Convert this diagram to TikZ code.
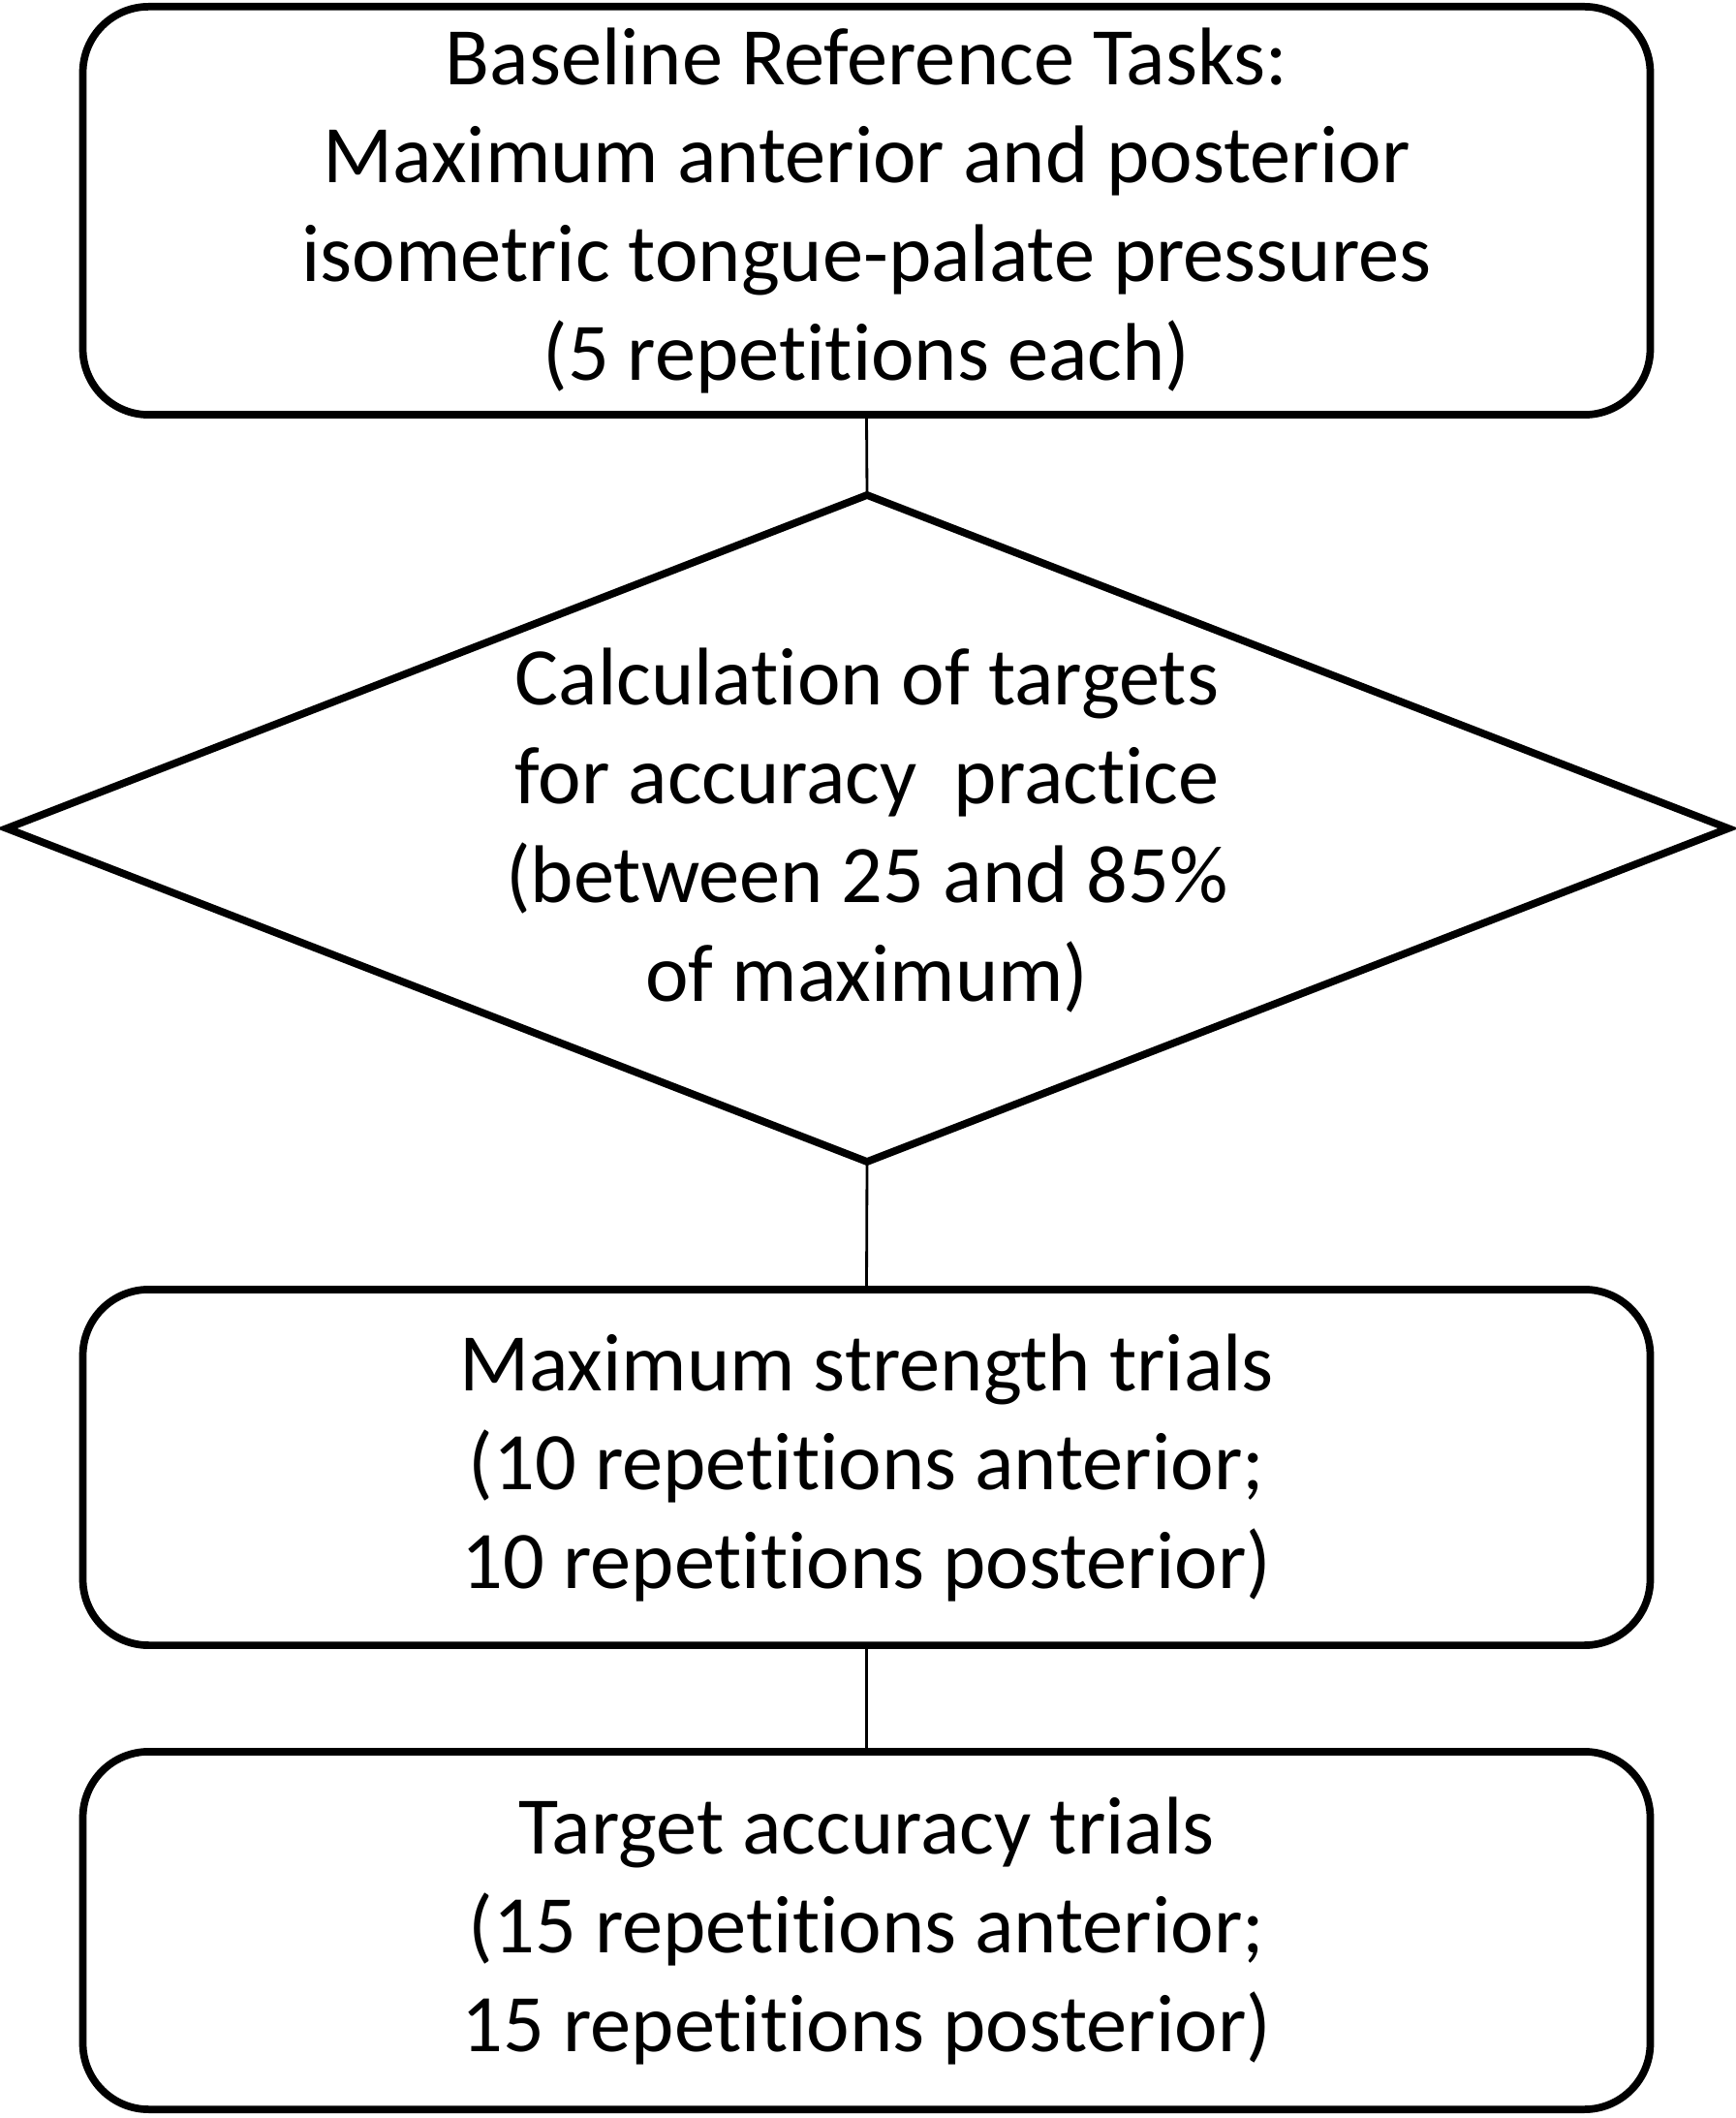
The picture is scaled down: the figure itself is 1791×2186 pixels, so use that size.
\documentclass[tikz,border=0pt]{standalone}
\usepackage{fontspec}
\setmainfont{Carlito}[Ligatures={NoCommon}]
\begin{document}
\begin{tikzpicture}[x=0.01cm,y=-0.01cm,
  boxstyle/.style={draw=black, line width=2.2pt, rounded corners=0.68cm, align=center, inner sep=0pt, fill=white},
  diastyle/.style={draw=black, line width=2.2pt, line join=miter},
  conn/.style={draw=black, line width=0.8pt},
  txt/.style={font=\fontsize{24}{29}\selectfont}]
\useasboundingbox (0,0) rectangle (1791,2186);
\node[boxstyle, txt, minimum width=16.17cm, minimum height=4.21cm] (b1) at (894.5,217.5)
  {Baseline Reference Tasks:\\Maximum anterior and posterior\\isometric tongue-palate pressures\\(5 repetitions each)};
\coordinate (dtop) at (895,511);
\coordinate (dright) at (1784,855);
\coordinate (dbot) at (895,1199);
\coordinate (dleft) at (7,855);
\draw[diastyle] (dtop) -- (dright) -- (dbot) -- (dleft) -- cycle;
\node[txt, align=center, inner sep=0pt] (d1) at (895,857)
  {Calculation of targets\\for accuracy\ \ practice\\(between 25 and 85\%\\of maximum)};
\node[boxstyle, txt, minimum width=16.17cm, minimum height=3.67cm] (b2) at (894.5,1514.5)
  {Maximum strength trials\\(10 repetitions anterior;\\10 repetitions posterior)};
\node[boxstyle, txt, minimum width=16.17cm, minimum height=3.69cm] (b3) at (894.5,1992.5)
  {Target accuracy trials\\(15 repetitions anterior;\\15 repetitions posterior)};
\draw[conn] (b1.south) -- (dtop);
\draw[conn] (dbot) -- (b2.north);
\draw[conn] (b2.south) -- (b3.north);
\end{tikzpicture}
\end{document}
